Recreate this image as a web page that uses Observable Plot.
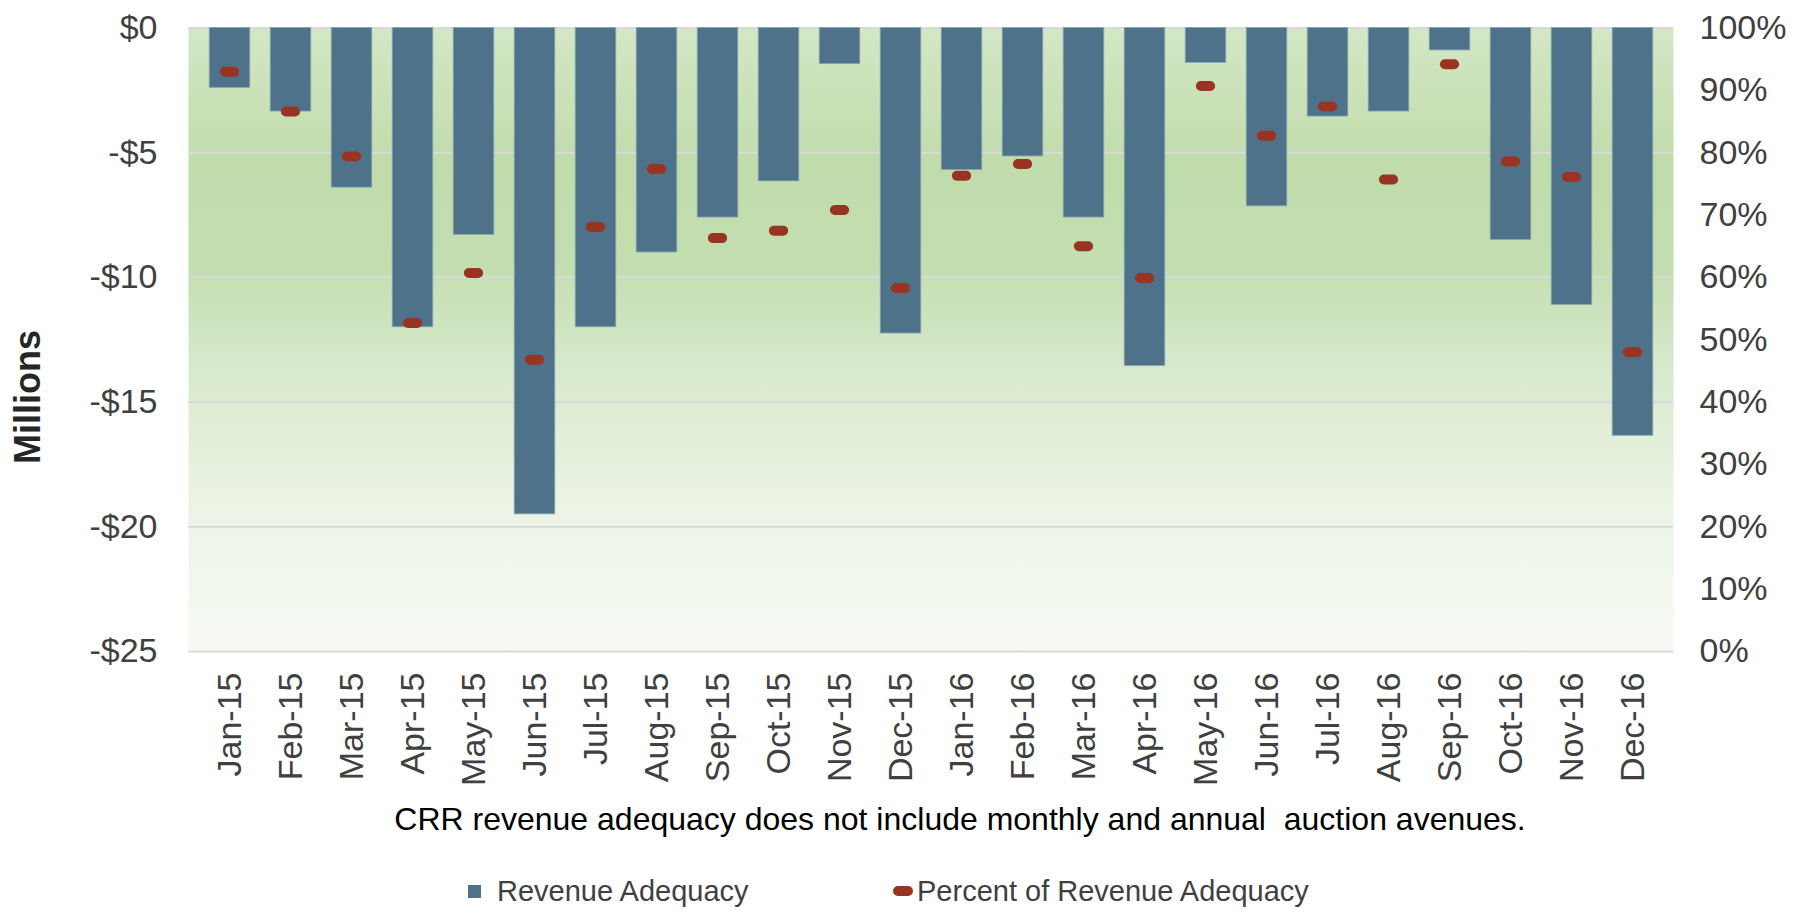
<!DOCTYPE html>
<html>
<head>
<meta charset="utf-8">
<script src="https://cdn.jsdelivr.net/npm/d3@7"></script>
<script src="https://cdn.jsdelivr.net/npm/@observablehq/plot@0.6"></script>
<style>
  body { margin: 0; background: #ffffff; font-family: "Liberation Sans", Arial, sans-serif; }
  #wrap { position: relative; width: 1807px; height: 916px; overflow: hidden; }
  #chart { position: absolute; left: 0; top: 0; }
  #ylabel { position: absolute; left: -72.5px; top: 377px; width: 200px; height: 40px; line-height: 40px;
            font-size: 36px; font-weight: bold; color: #262626; text-align: center; transform: rotate(-90deg); }
  #caption { position: absolute; left: 0; width: 1807px; top: 803px; font-size: 32px; line-height: 32px;
             color: #000000; white-space: pre; text-align: center; padding-left: 113px; box-sizing: border-box; }
  .legtext { position: absolute; top: 877px; font-size: 29px; line-height: 29px; color: #404040; white-space: pre; }
  .swatch { position: absolute; }
</style>
</head>
<body>
<svg width="0" height="0" style="position:absolute">
  <defs>
    <linearGradient id="bg" x1="0" y1="0" x2="0" y2="1">
      <stop offset="0%" stop-color="#d3e7c5"/>
      <stop offset="22%" stop-color="#c0dcab"/>
      <stop offset="38%" stop-color="#c3deb0"/>
      <stop offset="55%" stop-color="#d8e9cc"/>
      <stop offset="75%" stop-color="#eaf3e4"/>
      <stop offset="100%" stop-color="#f7faf4"/>
    </linearGradient>
  </defs>
</svg>
<div id="wrap">
  <div id="chart"></div>
  <div id="ylabel"></div>
  <div id="caption"></div>
  <div id="legend"></div>
</div>
<script>
const months = ["Jan-15","Feb-15","Mar-15","Apr-15","May-15","Jun-15","Jul-15","Aug-15","Sep-15","Oct-15","Nov-15","Dec-15",
                "Jan-16","Feb-16","Mar-16","Apr-16","May-16","Jun-16","Jul-16","Aug-16","Sep-16","Oct-16","Nov-16","Dec-16"];
const revenueAdequacy = [-2.4,-3.35,-6.4,-12.0,-8.3,-19.5,-12.0,-9.0,-7.6,-6.15,-1.45,-12.25,
                         -5.7,-5.15,-7.6,-13.55,-1.4,-7.15,-3.55,-3.35,-0.9,-8.5,-11.1,-16.35];
const percentAdequacy = [93.0,86.6,79.4,52.7,60.7,46.8,68.1,77.4,66.3,67.5,70.8,58.3,
                         76.3,78.2,65.0,59.9,90.7,82.7,87.4,75.7,94.2,78.6,76.1,48.0];
const dollarTicks = [0,-5,-10,-15,-20,-25];
const percentTicks = [0,10,20,30,40,50,60,70,80,90,100];
const yLabel = "Millions";
const captionText = "CRR revenue adequacy does not include monthly and annual  auction avenues.";
const seriesNames = ["Revenue Adequacy","Percent of Revenue Adequacy"];
const barColor = "#4e7289";
const dashColor = "#983421";

const data = months.map((m, i) => ({month: m, value: revenueAdequacy[i], pct: percentAdequacy[i]}));
// percent axis (0%..100%) shares the frame with the dollar axis (-25..0)
const pctToY = p => (p - 100) / 4;

const chart = Plot.plot({
  width: 1807,
  height: 790,
  marginTop: 27.5,
  marginBottom: 139,
  marginLeft: 188,
  marginRight: 134,
  style: {fontFamily: "'Liberation Sans', Arial, sans-serif", fontSize: "34px", color: "#404040", background: "transparent", overflow: "visible"},
  x: {domain: months, padding: 0, label: null},
  y: {domain: [-25, 0], label: null},
  marks: [
    Plot.frame({fill: "url(#bg)", stroke: null}),
    Plot.ruleY(dollarTicks, {stroke: "#d9d9d9", strokeWidth: 2}),
    Plot.barY(data, {x: "month", y: "value", fill: barColor, stroke: "#8aa5b4", strokeWidth: 0.8, insetLeft: 10.2, insetRight: 10.2}),
    Plot.tickY(data, {x: "month", y: d => pctToY(d.pct), stroke: dashColor, strokeWidth: 10, strokeLinecap: "round", insetLeft: 25.9, insetRight: 25.9}),
    Plot.axisY(dollarTicks, {anchor: "left", tickSize: 0, tickPadding: 31, label: null,
      tickFormat: v => v === 0 ? "$0" : `-$${-v}`}),
    Plot.axisY(percentTicks.map(pctToY), {anchor: "right", tickSize: 0, tickPadding: 26, label: null,
      tickFormat: v => `${Math.round(v * 4 + 100)}%`}),
    Plot.axisX({tickRotate: -90, tickSize: 0, tickPadding: 21, label: null})
  ]
});
document.getElementById("chart").appendChild(chart);
document.getElementById("ylabel").textContent = yLabel;
document.getElementById("caption").textContent = captionText;

const legend = document.getElementById("legend");
legend.innerHTML = `
  <div class="swatch" style="left:468px;top:885px;width:13px;height:13px;background:${barColor}"></div>
  <div class="legtext" style="left:497px">${seriesNames[0]}</div>
  <div class="swatch" style="left:893px;top:886px;width:20px;height:10px;border-radius:5px;background:${dashColor}"></div>
  <div class="legtext" style="left:917px">${seriesNames[1]}</div>`;
</script>
</body>
</html>
